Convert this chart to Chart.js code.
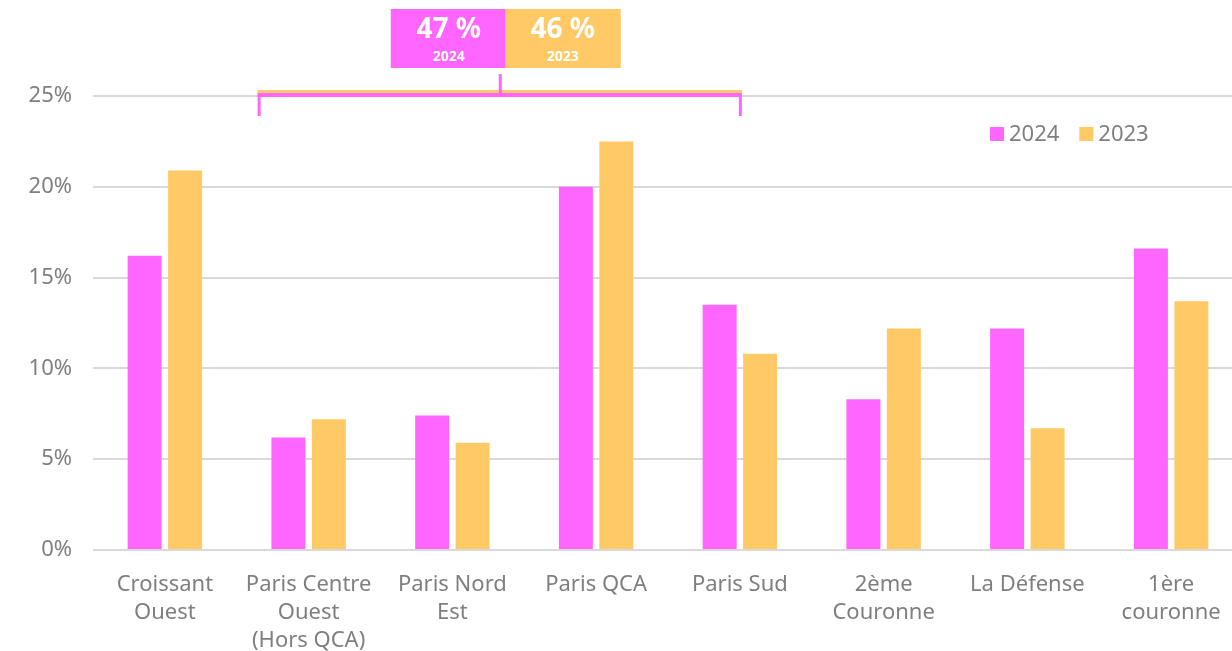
<!DOCTYPE html>
<html>
<head>
<meta charset="utf-8">
<script src="https://cdn.jsdelivr.net/npm/chart.js@4"></script>
<style>
  html, body { margin: 0; padding: 0; background: #fff; overflow: hidden; }
  #wrap { position: relative; width: 1250px; height: 651px; }
</style>
</head>
<body>
<div id="wrap"><canvas id="chart"></canvas></div>
<script>
const categories = [
    ['Croissant', 'Ouest'],
    ['Paris Centre', 'Ouest', '(Hors QCA)'],
    ['Paris Nord', 'Est'],
    'Paris QCA',
    'Paris Sud',
    ['2ème', 'Couronne'],
    'La Défense',
    ['1ère', 'couronne']
];
const values2024 = [16.2, 6.2, 7.4, 20.0, 13.5, 8.3, 12.2, 16.6];
const values2023 = [20.9, 7.2, 5.9, 22.5, 10.8, 12.2, 6.7, 13.7];
const yTicks = [0, 5, 10, 15, 20, 25];
const callout = { label2024: '47 %', label2023: '46 %', from: 1, to: 4 };

const PINK = '#FF66FF';
const YELLOW = '#FFCA66';
const GREY = '#7f7f7f';
const FONT = "'Noto Sans', 'Open Sans', sans-serif";

// legend drawn inside the plot, top right
const legendPlugin = {
    id: 'insideLegend',
    afterDraw(chart) {
        const ctx = chart.ctx;
        ctx.save();
        ctx.font = '22px ' + FONT;
        ctx.textBaseline = 'middle';
        let x = 990;
        const y = 134;
        chart.data.datasets.forEach(ds => {
            ctx.fillStyle = ds.backgroundColor;
            ctx.fillRect(x, y - 7, 14, 14);
            ctx.fillStyle = GREY;
            ctx.fillText(ds.label, x + 19, y + 1);
            x += 19 + ctx.measureText(ds.label).width + 20;
        });
        ctx.restore();
    }
};

// bracket + boxes over the Paris sectors
const calloutPlugin = {
    id: 'callout',
    afterDraw(chart) {
        const ctx = chart.ctx;
        const xs = chart.scales.x;
        const left = xs.getPixelForValue(callout.from) - 51;
        const right = xs.getPixelForValue(callout.to) + 2;
        const mid = (left + right) / 2;
        ctx.save();
        ctx.fillStyle = YELLOW;
        ctx.fillRect(left, 90, right - left, 3);
        ctx.fillStyle = PINK;
        ctx.fillRect(left, 93, right - left, 4);
        ctx.fillRect(left, 93, 3, 23);
        ctx.fillRect(right - 3, 93, 3, 23);
        ctx.fillRect(mid - 1, 74, 3, 20);

        const bx = mid + 6;
        ctx.fillStyle = PINK;
        ctx.fillRect(bx - 115, 9, 115, 59);
        ctx.fillStyle = YELLOW;
        ctx.fillRect(bx, 9, 115, 59);

        ctx.fillStyle = '#fff';
        ctx.textAlign = 'center';
        ctx.textBaseline = 'middle';
        ctx.font = 'bold 28px ' + FONT;
        ctx.fillText(callout.label2024, bx - 57, 30);
        ctx.fillText(callout.label2023, bx + 57, 30);
        ctx.font = 'bold 14px ' + FONT;
        ctx.fillText('2024', bx - 57, 57);
        ctx.fillText('2023', bx + 57, 57);
        ctx.restore();
    }
};

new Chart(document.getElementById('chart'), {
    type: 'bar',
    data: {
        labels: categories,
        datasets: [
            { label: '2024', data: values2024, backgroundColor: PINK },
            { label: '2023', data: values2023, backgroundColor: YELLOW }
        ]
    },
    options: {
        responsive: true,
        maintainAspectRatio: false,
        animation: false,
        layout: { padding: { top: 96, right: 7, left: 0, bottom: 0 } },
        datasets: {
            bar: { categoryPercentage: 0.563, barPercentage: 0.84 }
        },
        plugins: {
            legend: { display: false },
            tooltip: { enabled: false }
        },
        scales: {
            x: {
                grid: { display: false },
                border: { display: false },
                ticks: {
                    color: GREY,
                    font: { family: FONT, size: 22, lineHeight: 1.27 },
                    padding: 13,
                    maxRotation: 0,
                    autoSkip: false
                },
                afterFit(scale) { scale.height = 101; }
            },
            y: {
                min: 0,
                max: 25,
                afterBuildTicks(scale) { scale.ticks = yTicks.map(v => ({ value: v })); },
                grid: { color: '#d9d9d9', lineWidth: 2, drawTicks: false },
                border: { display: false },
                ticks: {
                    color: GREY,
                    font: { family: FONT, size: 22 },
                    padding: 21,
                    callback: v => v + '%'
                },
                afterFit(scale) { scale.width = 93; }
            }
        }
    },
    plugins: [legendPlugin, calloutPlugin]
});
</script>
</body>
</html>
